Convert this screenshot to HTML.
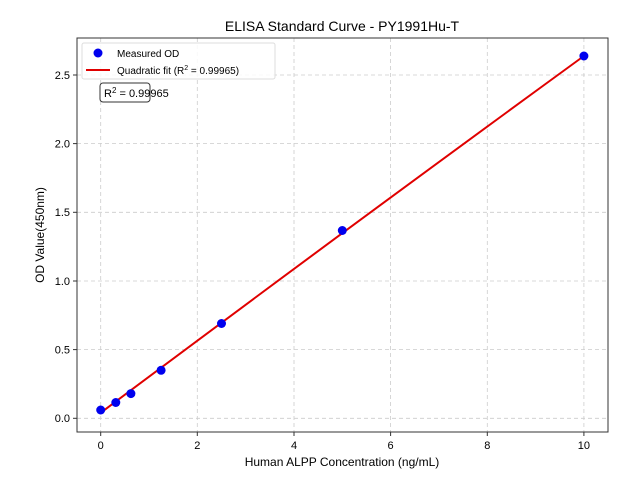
<!DOCTYPE html>
<html><head><meta charset="utf-8"><style>
body{margin:0;background:#fff}
svg text{font-family:"Liberation Sans","Noto Sans CJK SC",sans-serif;fill:#000}
</style></head><body>
<svg width="640" height="480" viewBox="0 0 640 480" xmlns="http://www.w3.org/2000/svg">
<rect width="640" height="480" fill="#fff"/>
<g stroke="#ccc" stroke-width="0.8" stroke-dasharray="4,3">
<line x1="100.7" y1="38" x2="100.7" y2="432"/>
<line x1="197.3" y1="38" x2="197.3" y2="432"/>
<line x1="294" y1="38" x2="294" y2="432"/>
<line x1="390.6" y1="38" x2="390.6" y2="432"/>
<line x1="487.3" y1="38" x2="487.3" y2="432"/>
<line x1="583.9" y1="38" x2="583.9" y2="432"/>
<line x1="77" y1="418.3" x2="608" y2="418.3"/>
<line x1="77" y1="349.6" x2="608" y2="349.6"/>
<line x1="77" y1="281" x2="608" y2="281"/>
<line x1="77" y1="212.3" x2="608" y2="212.3"/>
<line x1="77" y1="143.6" x2="608" y2="143.6"/>
<line x1="77" y1="75" x2="608" y2="75"/>
</g>
<polyline fill="none" stroke="#e00000" stroke-width="2" points="100.7,412.8 124.9,403.7 149.2,394.5 173.4,385.2 197.3,375.9 245.7,357.2 294,338.3 342.3,319.1 390.6,299.7 438.9,280 487.3,260.1 535.6,240 583.9,55.8" style="display:none"/>
<polyline fill="none" stroke="#e00000" stroke-width="2" points="100.7,412.8 149,367 197.3,320.8 245.7,274.8 294,229 342.3,183.4 390.6,138 438.9,92.7 487.3,147 583.9,56"  style="display:none"/>
<path d="M100.7,412.8 Q342.3,232 583.9,56" fill="none" stroke="#e00000" stroke-width="2"/>
<g fill="#0000ee">
<circle cx="100.7" cy="410" r="4.5"/>
<circle cx="115.8" cy="402.5" r="4.5"/>
<circle cx="130.9" cy="393.6" r="4.5"/>
<circle cx="161.1" cy="370.3" r="4.5"/>
<circle cx="221.5" cy="323.5" r="4.5"/>
<circle cx="342.3" cy="230.5" r="4.5"/>
<circle cx="583.9" cy="56" r="4.5"/>
</g>
<rect x="77" y="38" width="531" height="394" fill="none" stroke="#333" stroke-width="1"/>
<g stroke="#333" stroke-width="1">
<line x1="100.7" y1="432" x2="100.7" y2="436"/><line x1="197.3" y1="432" x2="197.3" y2="436"/>
<line x1="294" y1="432" x2="294" y2="436"/><line x1="390.6" y1="432" x2="390.6" y2="436"/>
<line x1="487.3" y1="432" x2="487.3" y2="436"/><line x1="583.9" y1="432" x2="583.9" y2="436"/>
<line x1="73" y1="418.3" x2="77" y2="418.3"/><line x1="73" y1="349.6" x2="77" y2="349.6"/>
<line x1="73" y1="281" x2="77" y2="281"/><line x1="73" y1="212.3" x2="77" y2="212.3"/>
<line x1="73" y1="143.6" x2="77" y2="143.6"/><line x1="73" y1="75" x2="77" y2="75"/>
</g>
<g font-size="11" text-anchor="middle">
<text x="100.7" y="449">0</text><text x="197.3" y="449">2</text><text x="294" y="449">4</text>
<text x="390.6" y="449">6</text><text x="487.3" y="449">8</text><text x="583.9" y="449">10</text>
</g>
<g font-size="11" text-anchor="end">
<text x="70" y="422">0.0</text><text x="70" y="353.5">0.5</text><text x="70" y="285">1.0</text>
<text x="70" y="216">1.5</text><text x="70" y="147.5">2.0</text><text x="70" y="79">2.5</text>
</g>
<text x="342" y="466" font-size="12" text-anchor="middle">Human ALPP Concentration (ng/mL)</text>
<text transform="translate(44,235) rotate(-90)" font-size="12" text-anchor="middle">OD Value(450nm)</text>
<text x="342" y="31" font-size="14" text-anchor="middle">ELISA Standard Curve - PY1991Hu-T</text>
<rect x="82" y="43" width="193" height="36" rx="2" fill="#fff" fill-opacity="0.85" stroke="#ddd"/>
<circle cx="98" cy="53" r="4.5" fill="#0000ee"/>
<line x1="86" y1="70" x2="110" y2="70" stroke="#e00000" stroke-width="2"/>
<text x="117" y="57" font-size="10">Measured OD</text>
<text x="117" y="74" font-size="10">Quadratic fit (R<tspan dy="-4" font-size="7">2</tspan><tspan dy="4"> = 0.99965)</tspan></text>
<rect x="100" y="83" width="50" height="19" rx="3" fill="#fff" stroke="#333"/>
<text x="104" y="97" font-size="11">R<tspan dy="-4" font-size="8">2</tspan><tspan dy="4"> = 0.99965</tspan></text>
</svg>
</body></html>
